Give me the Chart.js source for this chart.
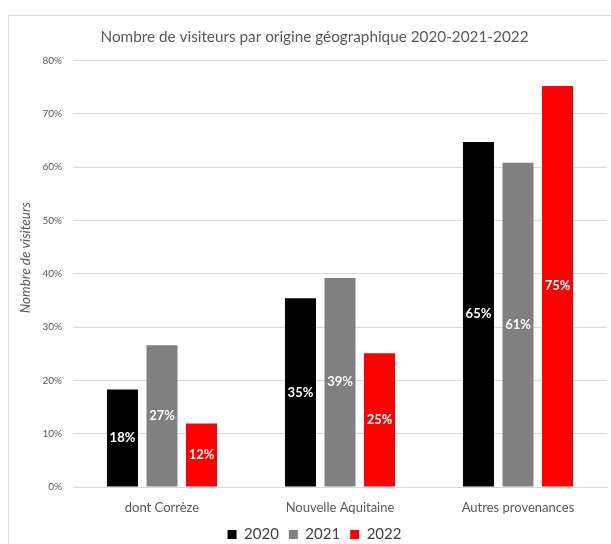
<!DOCTYPE html>
<html lang="fr">
<head>
<meta charset="utf-8">
<title>Nombre de visiteurs par origine géographique</title>
<script src="https://cdn.jsdelivr.net/npm/chart.js@4.4.0/dist/chart.umd.min.js"></script>
<style>
    html, body { margin: 0; padding: 0; background: #fff; overflow: hidden; }
    #frame {
        position: absolute; left: 8px; top: 15px;
        width: 700px; height: 600px;
        border: 1px solid #d9d9d9; box-sizing: border-box;
    }
    #wrap { position: absolute; left: 0; top: 0; width: 611px; height: 544px; }
</style>
</head>
<body>
<div id="frame"></div>
<div id="wrap"><canvas id="chart" width="611" height="544"></canvas></div>
<script>
// Data (percent of visitors)
const categories = ['dont Corrèze', 'Nouvelle Aquitaine', 'Autres provenances'];
const years = ['2020', '2021', '2022'];
const values2020 = [18.3, 35.4, 64.7];
const values2021 = [26.6, 39.2, 60.8];
const values2022 = [11.9, 25.1, 75.2];
const yTicks = [0, 10, 20, 30, 40, 50, 60, 70, 80];

const colors = ['#000000', '#808080', '#ff0000'];
const fontFamily = 'Lato, "Open Sans", sans-serif';
const yTitle = 'Nombre de visiteurs';

// White value labels in the middle of each bar + the y axis title
const barLabels = {
    id: 'barLabels',
    afterDatasetsDraw(chart) {
        const ctx = chart.ctx;
        ctx.save();
        ctx.font = 'bold 13px ' + fontFamily;
        ctx.fillStyle = '#ffffff';
        ctx.textAlign = 'center';
        ctx.textBaseline = 'middle';
        chart.data.datasets.forEach((ds, i) => {
            chart.getDatasetMeta(i).data.forEach((bar, j) => {
                const y = (bar.y + bar.base) / 2;
                ctx.fillText(Math.round(ds.data[j]) + '%', bar.x, y);
            });
        });
        ctx.restore();
    },
    afterDraw(chart) {
        // Excel puts the axis title a bit above the plot centre
        const ctx = chart.ctx;
        const area = chart.chartArea;
        ctx.save();
        ctx.translate(26, (area.top + area.bottom) / 2 - 16);
        ctx.rotate(-Math.PI / 2);
        ctx.font = 'italic 13.5px ' + fontFamily;
        ctx.fillStyle = '#595959';
        ctx.textAlign = 'center';
        ctx.textBaseline = 'middle';
        ctx.fillText(yTitle, 0, 0);
        ctx.restore();
    }
};

new Chart(document.getElementById('chart'), {
    type: 'bar',
    data: {
        labels: categories,
        datasets: [
            { label: years[0], data: values2020, backgroundColor: colors[0] },
            { label: years[1], data: values2021, backgroundColor: colors[1] },
            { label: years[2], data: values2022, backgroundColor: colors[2] }
        ]
    },
    options: {
        responsive: false,
        animation: false,
        layout: { padding: { left: 22, right: 4, top: 0, bottom: -8 } },
        datasets: {
            bar: { categoryPercentage: 0.666, barPercentage: 0.785 }
        },
        plugins: {
            title: {
                display: true,
                text: 'Nombre de visiteurs par origine géographique 2020-2021-2022',
                color: '#595959',
                font: { family: fontFamily, size: 15.3, weight: 'normal' },
                padding: { top: 28, bottom: 14 }
            },
            legend: {
                position: 'bottom',
                labels: {
                    color: '#404040',
                    font: { family: fontFamily, size: 15 },
                    boxWidth: 9,
                    boxHeight: 9,
                    padding: 10
                }
            },
            tooltip: { enabled: false }
        },
        scales: {
            x: {
                grid: { display: false },
                border: { display: true, color: '#d9d9d9' },
                ticks: {
                    color: '#595959',
                    font: { family: fontFamily, size: 13 },
                    padding: 5
                },
                afterFit(scale) { scale.height = 30; }
            },
            y: {
                min: 0,
                max: 80,
                afterBuildTicks(scale) { scale.ticks = yTicks.map(v => ({ value: v })); },
                grid: { color: '#d9d9d9', drawTicks: false },
                border: { display: false },
                ticks: {
                    color: '#595959',
                    font: { family: fontFamily, size: 10 },
                    padding: 11,
                    callback: value => value + '%'
                },
                afterFit(scale) { scale.width = 51; }
            }
        }
    },
    plugins: [barLabels]
});
</script>
</body>
</html>
